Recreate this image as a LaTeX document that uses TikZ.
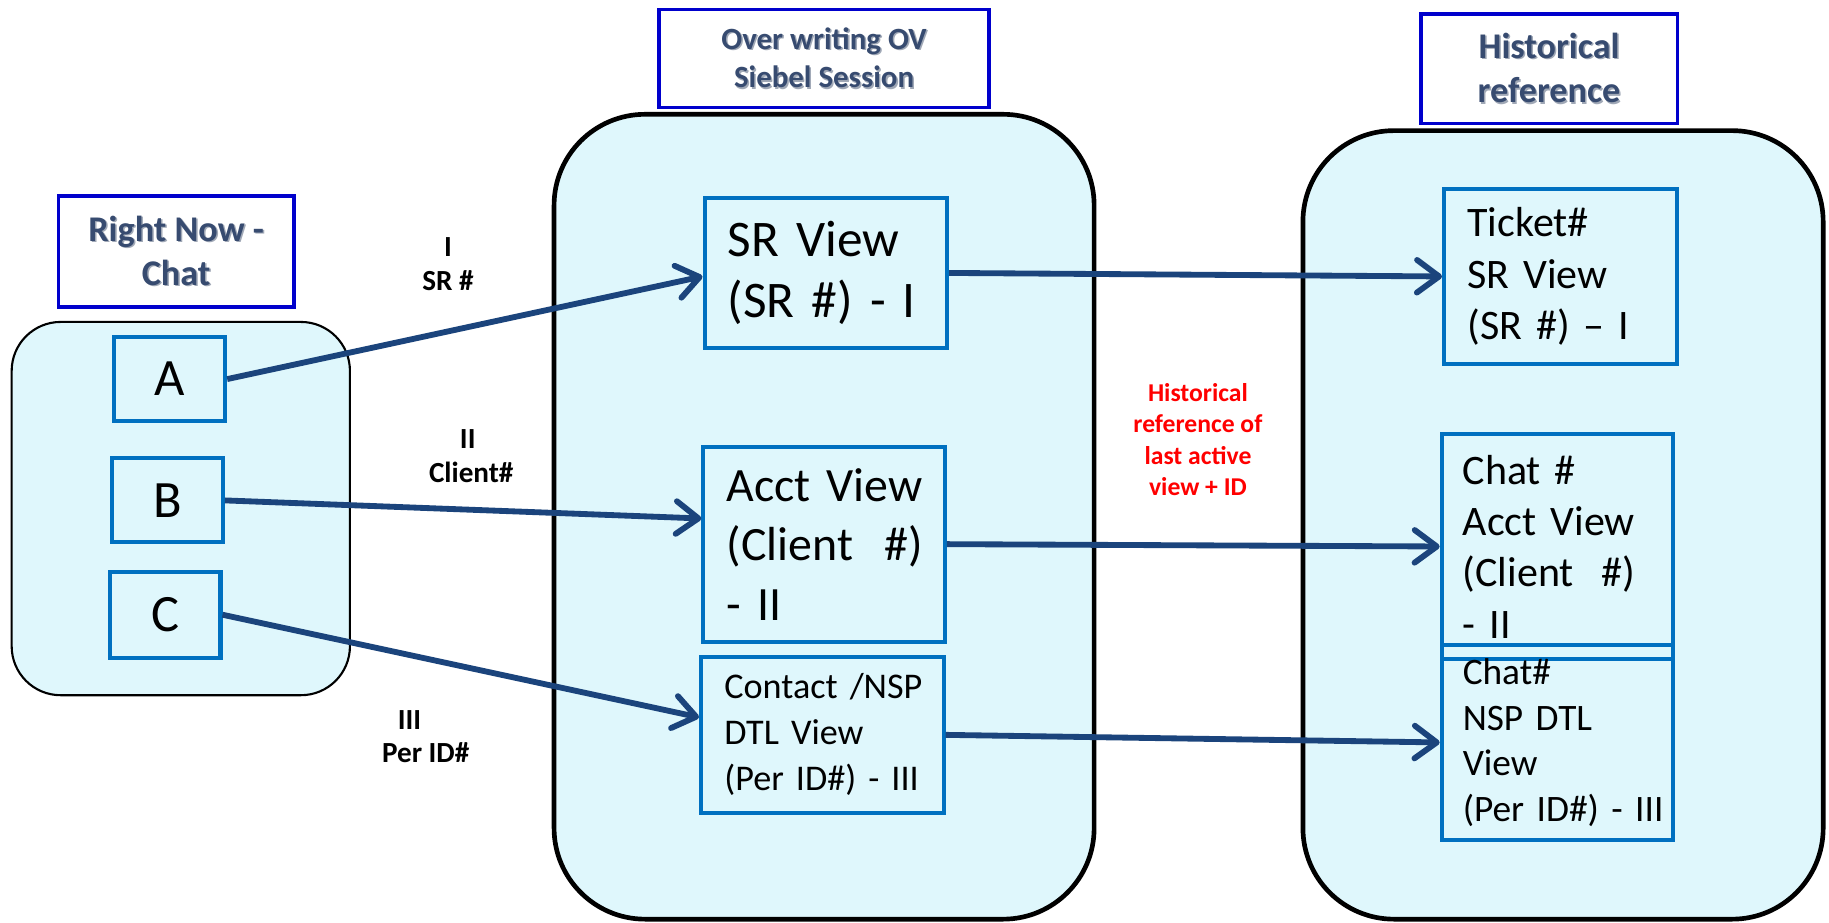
\documentclass[tikz,border=0pt]{standalone}
\usepackage{fontspec}
\setmainfont{Carlito}
\usetikzlibrary{arrows.meta}

\definecolor{panelfill}{RGB}{223,247,252}
\definecolor{boxblue}{RGB}{0,112,192}
\definecolor{titleblue}{RGB}{0,0,204}
\definecolor{titletext}{RGB}{55,75,112}
\definecolor{titleshadow}{RGB}{160,168,182}
\definecolor{linkblue}{RGB}{27,68,124}
\definecolor{notered}{RGB}{255,0,0}

% heading text with a soft drop shadow
\newcommand\shd[1]{\leavevmode\rlap{\kern1.3pt\raisebox{-1.3pt}{\textcolor{titleshadow}{#1}}}#1}

\begin{document}
\begin{tikzpicture}[x=1pt, y=-1pt,
  panel/.style={draw=black, line width=4pt, fill=panelfill, rounded corners=78pt, inner sep=0pt},
  titlebox/.style={draw=titleblue, line width=3pt, fill=white, align=center, text=titletext,
    inner sep=0pt, font=\bfseries\fontsize{31}{38}\selectfont},
  itembox/.style={draw=boxblue, line width=3.5pt, fill=panelfill, inner sep=0pt},
  letterbox/.style={itembox, minimum width=95pt, minimum height=72pt, font=\fontsize{45}{54}\selectfont},
  viewbox/.style={itembox, align=left, inner xsep=20pt, inner ysep=0pt},
  link/.style={draw=linkblue, line width=5pt, -{Straight Barb[length=19pt, width=28pt, round]}},
  edgelabel/.style={align=center, font=\bfseries\fontsize{25}{29}\selectfont},
  note/.style={align=center, text=notered, font=\bfseries\fontsize{22}{27}\selectfont}]

\fill[white] (0,0) rectangle (1568,791);
\useasboundingbox (0,0) rectangle (1568,791);

% the three panels
\node[panel, minimum width=290pt, minimum height=320pt, rounded corners=42pt, line width=1.8pt] (rnpanel) at (155,436) {};
\node[panel, minimum width=463pt, minimum height=690pt] (ovpanel) at (706.5,443) {};
\node[panel, minimum width=446pt, minimum height=676pt] (hrpanel) at (1340,450) {};

% panel headings
\node[titlebox, minimum width=202pt, minimum height=95pt] (rntitle) at (151,215.5) {\shd{Right Now -}\\\shd{Chat}};
\node[titlebox, minimum width=283pt, minimum height=84pt, font=\bfseries\fontsize{26.5}{33}\selectfont] (ovtitle) at (706.5,50) {\shd{Over writing OV}\\\shd{Siebel Session}};
\node[titlebox, minimum width=220pt, minimum height=94pt] (hrtitle) at (1328,59) {\shd{Historical}\\\shd{reference}};

% chat entries
\node[letterbox] (A) at (145.5,325) {A};
\node[letterbox] (B) at (143.5,429) {B};
\node[letterbox, minimum height=74pt] (C) at (141.5,527) {C};

% Siebel session views
\node[viewbox, text width=168pt, minimum height=128pt, font=\fontsize{44}{53}\selectfont] (srview) at (708,234) {\mbox{SR View}\\\mbox{(SR \#) - I}};
\node[viewbox, text width=167pt, minimum height=167pt, font=\fontsize{41}{51}\selectfont] (acctview) at (706.5,466.5) {\mbox{Acct View}\\\mbox{(Client\ \ \#)}\\\mbox{- II}};
\node[viewbox, text width=168pt, minimum height=134pt, font=\fontsize{31}{39.5}\selectfont] (contactview) at (705,630) {\mbox{Contact /NSP}\\\mbox{DTL View}\\\mbox{(Per ID\#) - III}};

% historical references
\node[viewbox, text width=160pt, minimum height=150pt, font=\fontsize{36}{44}\selectfont] (ticket) at (1338,237) {Ticket\#\\\mbox{SR View}\\\mbox{(SR \#) \textendash{} I}};
\node[viewbox, inner xsep=18pt, text width=162pt, minimum height=193pt, font=\fontsize{36}{44}\selectfont] (chatacct) at (1335,468.5) {\mbox{Chat \#}\\\mbox{Acct View}\\\mbox{(Client\ \ \#)}\\\mbox{- II}};
\node[viewbox, fill=none, inner xsep=18pt, text width=162pt, minimum height=167pt, font=\fontsize{32}{39}\selectfont] (chatnsp) at (1335,636.5) {Chat\#\\\mbox{NSP DTL}\\View\\\mbox{(Per ID\#) - III}};

% connectors
\draw[link] (A.east) -- ([yshift=-3pt]srview.west);
\draw[link] (B.east) -- ([yshift=22pt]acctview.west);
\draw[link] (C.east) -- ([yshift=15pt]contactview.west);
\draw[link] (srview.east) -- (ticket.west);
\draw[link] (acctview.east) -- (chatacct.west);
\draw[link] (contactview.east) -- (chatnsp.west);

% labels
\node[edgelabel] (lblI) at (384,226.5) {I\\SR \#};
\node[edgelabel] (lblII) at (401,391) {II\\\hspace*{6pt}Client\#};
\node[edgelabel] (lblIII) at (351,631.5) {III\\\hspace*{28pt}Per ID\#};
\node[note] (histnote) at (1027,377) {Historical\\reference of\\last active\\view + ID};

\end{tikzpicture}
\end{document}
